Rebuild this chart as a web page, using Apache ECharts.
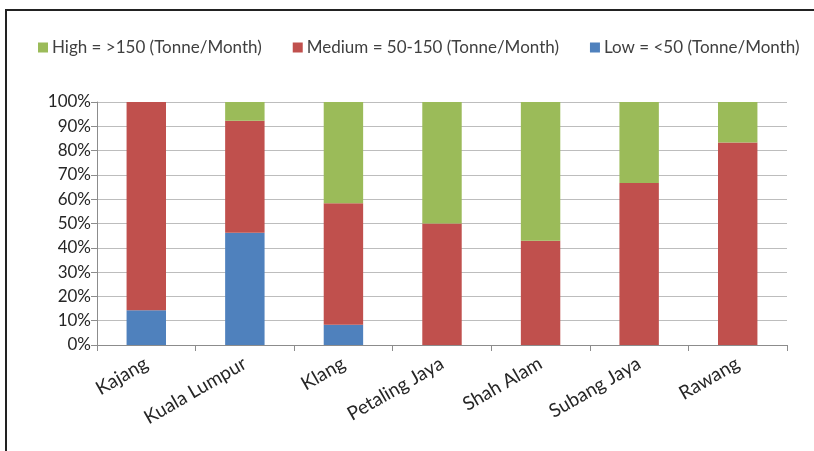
<!DOCTYPE html>
<html>
<head>
<meta charset="utf-8">
<script src="https://cdn.jsdelivr.net/npm/echarts@6/dist/echarts.min.js"></script>
<style>
  html, body { margin: 0; padding: 0; background: #fff; }
  #frame {
    position: absolute; left: 5px; top: 9px; width: 820px; height: 450px;
    border-left: 2px solid #222; border-top: 2px solid #222;
  }
  #chart { position: absolute; left: 0; top: 0; width: 814px; height: 451px; }
</style>
</head>
<body>
<div id="frame"></div>
<div id="chart"></div>
<script>
const cities = ['Kajang', 'Kuala Lumpur', 'Klang', 'Petaling Jaya', 'Shah Alam', 'Subang Jaya', 'Rawang'];
// share of each city, in percent
const lowShare = [14.3, 46.2, 8.3, 0, 0, 0, 0];
const mediumShare = [85.7, 46.1, 50, 50, 42.9, 66.7, 83.3];
const highShare = [0, 7.7, 41.7, 50, 57.1, 33.3, 16.7];
const seriesNames = ['High = >150 (Tonne/Month)', 'Medium = 50-150 (Tonne/Month)', 'Low = <50 (Tonne/Month)'];

const chart = echarts.init(document.getElementById('chart'));
const font = 'Lato, sans-serif';

const option = {
  animation: false,
  backgroundColor: 'transparent',
  textStyle: { fontFamily: font },
  legend: {
    data: seriesNames,
    top: 34,
    left: 33,
    itemWidth: 10,
    itemHeight: 10,
    itemGap: 31,
    icon: 'rect',
    textStyle: { color: '#404040', fontSize: 17, fontFamily: font, padding: [0, 0, 0, -1] },
  },
  grid: { left: 97, right: 27, top: 102, bottom: 106 },
  xAxis: {
    type: 'category',
    data: cities,
    axisLine: { lineStyle: { color: '#8c8c8c' } },
    axisTick: { show: true, length: 6, lineStyle: { color: '#8c8c8c' } },
    axisLabel: { rotate: 30, color: '#262626', fontSize: 19, margin: 17, interval: 0 },
  },
  yAxis: {
    type: 'value',
    min: 0,
    max: 100,
    interval: 10,
    axisLine: { show: true, lineStyle: { color: '#8c8c8c' } },
    axisTick: { show: true, length: 6, lineStyle: { color: '#8c8c8c' } },
    axisLabel: { formatter: '{value}%', color: '#262626', fontSize: 17, margin: 6 },
    splitLine: { lineStyle: { color: '#bdbdbd', width: 1 } },
  },
  series: [
    {
      name: seriesNames[2],
      type: 'bar',
      stack: 'share',
      barWidth: '40%',
      data: lowShare,
      itemStyle: { color: '#4F81BD' },
    },
    {
      name: seriesNames[1],
      type: 'bar',
      stack: 'share',
      data: mediumShare,
      itemStyle: { color: '#C0504D' },
    },
    {
      name: seriesNames[0],
      type: 'bar',
      stack: 'share',
      data: highShare,
      itemStyle: { color: '#9BBB59' },
    },
  ],
};
chart.setOption(option);
</script>
</body>
</html>
